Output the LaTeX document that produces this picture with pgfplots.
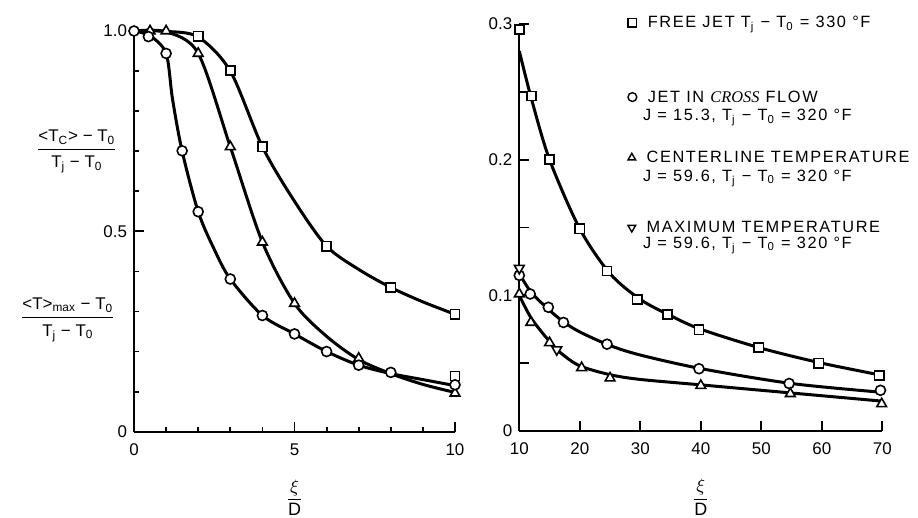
\documentclass[border=0pt]{standalone}
\usepackage{pgfplots}
\pgfplotsset{compat=1.18}
\usepackage{pgfplotstable}
\usepackage{fontspec}
\setmainfont{Liberation Sans}
\newfontfamily\letterfont{Liberation Sans}[LetterSpace=10]
\newfontfamily\crossfont{Liberation Serif}
\usetikzlibrary{plotmarks}

% ---------------- near field, 0 <= xi/D <= 10 ----------------
% faired curves
\pgfplotstableread{
x y
0 1.000
1 0.999
2 0.985
3 0.900
4 0.711
5 0.575
6 0.463
7 0.405
8 0.360
9 0.324
10 0.293
}\nearFreeCurve
\pgfplotstableread{
x y
0 1.000
1 0.998
2 0.944
3 0.711
4 0.473
5 0.320
6 0.238
7 0.180
8 0.145
9 0.118
10 0.098
}\nearCenterCurve
\pgfplotstableread{
x y
0 1.000
0.5 0.988
1 0.944
1.2 0.830
1.5 0.700
2 0.549
2.5 0.455
3 0.381
4 0.290
5 0.244
6 0.200
7 0.166
8 0.145
9 0.130
10 0.115
}\nearCrossCurve
% measured points
\pgfplotstableread{
x y
2 0.987
3 0.901
4 0.711
6 0.463
8 0.360
10 0.293
10 0.139
}\nearFreePts
\pgfplotstableread{
x y
0 1.000
0.45 0.986
1 0.944
1.5 0.701
2 0.549
3 0.381
4 0.290
5 0.244
6 0.200
7 0.166
8 0.148
10 0.117
}\nearCrossPts
\pgfplotstableread{
x y
0.5 1.000
1 1.000
2 0.944
3 0.711
4 0.473
5 0.320
7 0.183
10 0.096
}\nearCenterPts

% ---------------- far field, 10 <= xi/D <= 70 ----------------
\pgfplotstableread{
x y
10 0.280
12 0.245
15 0.200
20 0.149
25 0.116
30 0.097
35 0.085
40 0.075
50 0.061
60 0.050
70 0.041
}\farFreeCurve
\pgfplotstableread{
x y
10 0.116
12 0.102
15 0.089
17.3 0.0805
20 0.073
25 0.063
30 0.056
40 0.046
55 0.035
70 0.0285
}\farCrossCurve
\pgfplotstableread{
x y
10 0.100
12 0.083
15 0.066
17 0.057
20 0.048
25 0.0415
30 0.038
40 0.034
55 0.028
70 0.022
}\farCenterCurve
\pgfplotstableread{
x y
10 0.296
12 0.247
15 0.200
20 0.149
24.5 0.118
29.5 0.097
34.5 0.086
39.7 0.0746
49.6 0.0615
59.5 0.050
69.5 0.041
}\farFreePts
\pgfplotstableread{
x y
10 0.1147
11.8 0.101
14.8 0.0912
17.3 0.080
24.5 0.064
39.7 0.0459
54.6 0.035
69.7 0.030
}\farCrossPts
\pgfplotstableread{
x y
10 0.101
11.9 0.080
15 0.065
20.3 0.0466
25 0.039
40 0.0335
54.8 0.0275
69.9 0.020
}\farCenterPts
\pgfplotstableread{
x y
10 0.120
16.2 0.060
}\farMaxPts

\pgfplotsset{
  panel/.style={
    scale only axis, axis lines=left, clip=false,
    axis line style={-, line width=1bp},
    tick align=inside, tick style={black, line width=0.9bp},
    major tick length=5bp, minor tick length=2.5bp,
    /pgf/number format/assume math mode=true,
    tick label style={font=\fontsize{8.5}{9}\selectfont},
    xticklabel style={yshift=-2.5bp},
  },
  fitline/.style={no markers, smooth, tension=0.5, line width=1.5bp, black},
  sqpts/.style={only marks, mark=square*, mark size=2.3bp,
    mark options={fill=white, draw=black, line width=0.8bp}},
  cipts/.style={only marks, mark=*, mark size=2.5bp,
    mark options={fill=white, draw=black, line width=0.8bp}},
  trpts/.style={only marks, mark=triangle*, mark size=2.8bp,
    mark options={fill=white, draw=black, line width=0.8bp}},
  itpts/.style={only marks, mark=triangle*, mark size=2.8bp,
    mark options={fill=white, draw=black, line width=0.8bp, rotate=180}},
}

\newcommand{\legmark}[2][]{\tikz[baseline=-0.6ex]{\pgfsetplotmarksize{2.2bp}\pgfsetlinewidth{0.7bp}\pgftransformrotate{0#1}\pgfuseplotmark{#2}}}

\begin{document}
\begin{tikzpicture}
\useasboundingbox (0,0) rectangle (459bp,259bp);

\begin{axis}[panel,
  at={(67bp,43.15bp)}, anchor=south west,
  width=160.5bp, height=200.35bp,
  xmin=0, xmax=10, ymin=0, ymax=1,
  xtick={0,5,10}, minor xtick={1,2,3,4,6,7,8,9},
  ytick={0,0.5,1}, yticklabels={0,0.5,1.0},
  minor ytick={0.1,0.2,0.3,0.4,0.6,0.7,0.8,0.9},
]
\addplot[fitline] table {\nearFreeCurve};
\addplot[fitline] table {\nearCenterCurve};
\addplot[fitline] table {\nearCrossCurve};
\addplot[sqpts] table {\nearFreePts};
\addplot[trpts] table {\nearCenterPts};
\addplot[cipts] table {\nearCrossPts};

\node[font=\fontsize{8.5}{9}\selectfont] at (axis cs:-1.78,0.70)
  {\begin{tabular}{@{}c@{}}<T\textsubscript{C}> − T\textsubscript{0}\\[1pt]\hline\rule{0pt}{9pt}T\textsubscript{j} − T\textsubscript{0}\end{tabular}};
\node[font=\fontsize{8.5}{9}\selectfont] at (axis cs:-2.06,0.28)
  {\begin{tabular}{@{}c@{}}<T>\textsubscript{max} − T\textsubscript{0}\\[1pt]\hline\rule{0pt}{9pt}T\textsubscript{j} − T\textsubscript{0}\end{tabular}};
\node[font=\fontsize{9}{10}\selectfont] at (axis cs:5,-0.165) {$\displaystyle\frac{\xi}{\mbox{D}}$};
\end{axis}

\begin{axis}[panel,
  at={(259.65bp,43.5bp)}, anchor=south west,
  width=181.5bp, height=203.5bp,
  xmin=10, xmax=70, ymin=0, ymax=0.3,
  xtick={10,20,30,40,50,60,70},
  ytick={0,0.05,0.1,0.15,0.2,0.25,0.3}, yticklabels={0,,0.1,,0.2,,0.3},
]
\addplot[fitline] table {\farFreeCurve};
\addplot[fitline] table {\farCrossCurve};
\addplot[fitline] table {\farCenterCurve};
\addplot[sqpts] table {\farFreePts};
\addplot[cipts] table {\farCrossPts};
\addplot[trpts] table {\farCenterPts};
\addplot[itpts] table {\farMaxPts};

\node[font=\fontsize{9}{10}\selectfont] at (axis cs:40,-0.049) {$\displaystyle\frac{\xi}{\mbox{D}}$};

% key
\begin{scope}[every node/.style={anchor=mid west, inner sep=0pt, font=\letterfont\fontsize{8.2}{9}\selectfont}]
\node at (axis cs:27.9,0.3010) {\legmark{square}\hspace{5.5bp}FREE JET T\textsubscript{j} − T\textsubscript{0} = 330 °F};
\node at (axis cs:27.9,0.2462) {\legmark{o}\hspace{5.5bp}JET IN {\crossfont\itshape CROSS} FLOW};
\node at (axis cs:30.4,0.2326) {J = 15.3, T\textsubscript{j} − T\textsubscript{0} = 320 °F};
\node at (axis cs:27.9,0.2015) {\legmark{triangle}\hspace{5.5bp}CENTERLINE TEMPERATURE};
\node at (axis cs:30.4,0.1880) {J = 59.6, T\textsubscript{j} − T\textsubscript{0} = 320 °F};
\node at (axis cs:27.9,0.1500) {\legmark[180]{triangle}\hspace{5.5bp}MAXIMUM TEMPERATURE};
\node at (axis cs:30.4,0.1385) {J = 59.6, T\textsubscript{j} − T\textsubscript{0} = 320 °F};
\end{scope}
\end{axis}
\end{tikzpicture}
\end{document}
